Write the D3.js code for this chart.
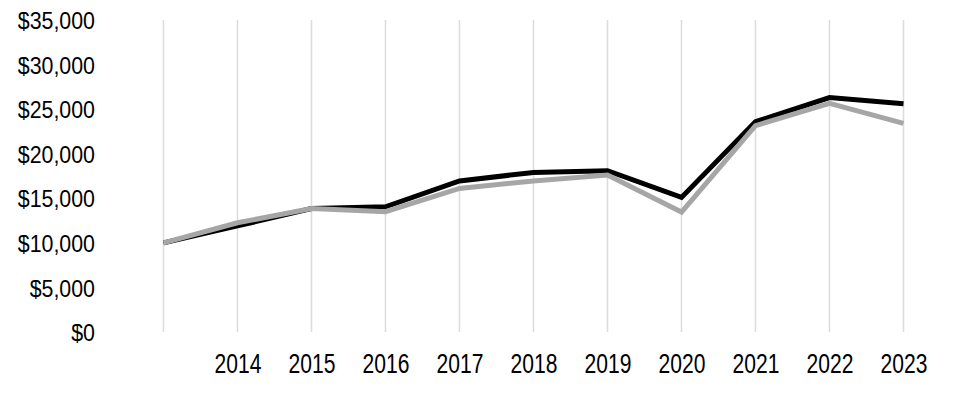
<!DOCTYPE html>
<html><head><meta charset="utf-8">
<script src="https://cdn.jsdelivr.net/npm/d3@7"></script>
<style>body{margin:0;background:#fff;} svg{display:block;}</style>
</head><body>
<svg id="c" width="960" height="400"></svg>
<script>
const years = [2013,2014,2015,2016,2017,2018,2019,2020,2021,2022,2023];
const yearLabels = ["","2014","2015","2016","2017","2018","2019","2020","2021","2022","2023"];
const seriesBlack = [10000,11900,13850,14050,16950,17900,18100,15100,23600,26300,25600];
const seriesGray  = [10000,12250,13850,13500,16100,16950,17600,13450,23150,25650,23400];
const yTicks = [0,5000,10000,15000,20000,25000,30000,35000];

const svg = d3.select("#c");
const font = "'Liberation Sans',Arial,sans-serif";
const x = d3.scalePoint().domain(years).range([163.5, 903.5]);
const y = d3.scaleLinear().domain([0,35000]).range([332,20]);

// vertical gridlines
svg.append("g").selectAll("line").data(years).join("line")
  .attr("x1", d=>x(d)).attr("x2", d=>x(d))
  .attr("y1", y(35000)).attr("y2", y(0))
  .attr("stroke", "#dcdcdc").attr("stroke-width", 1.5);

function squeeze(sel, k) {
  sel.each(function() {
    const w = this.getComputedTextLength();
    d3.select(this).attr("textLength", w * k).attr("lengthAdjust", "spacingAndGlyphs");
  });
}

// y axis
const yAxis = d3.axisLeft(y).tickValues(yTicks).tickSize(0).tickPadding(0)
  .tickFormat(d => "$" + d3.format(",")(d));
const gy = svg.append("g").attr("transform","translate(95,0)").call(yAxis);
gy.select(".domain").remove();
gy.selectAll("text").attr("font-family", font).attr("font-size", 24).attr("fill","#000").attr("dy","0.36em")
  .call(squeeze, 0.89);

// x axis
const xAxis = d3.axisBottom(x).tickSize(0).tickPadding(0).tickFormat((d,i)=>yearLabels[i]);
const gx = svg.append("g").attr("transform","translate(0,354)").call(xAxis);
gx.select(".domain").remove();
gx.selectAll("text").attr("font-family", font).attr("font-size", 27).attr("fill","#000").attr("dy","0.71em")
  .call(squeeze, 0.78);

const line = d3.line().x((d,i)=>x(years[i])).y(d=>y(d));
svg.append("path").datum(seriesBlack).attr("d", line).attr("fill","none")
  .attr("stroke","#000").attr("stroke-width",5).attr("stroke-linejoin","miter");
svg.append("path").datum(seriesGray).attr("d", line).attr("fill","none")
  .attr("stroke","#a6a6a6").attr("stroke-width",5).attr("stroke-linejoin","miter");
</script>
</body></html>
